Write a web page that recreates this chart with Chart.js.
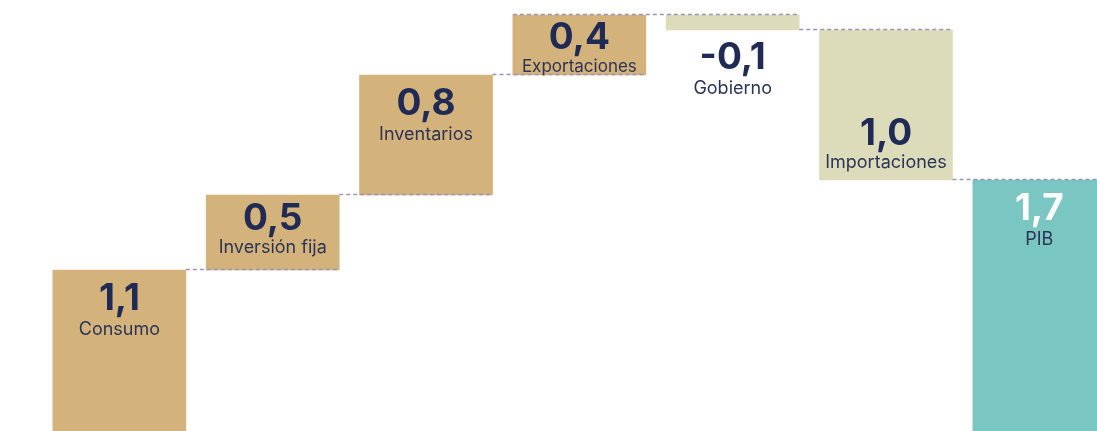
<!DOCTYPE html>
<html>
<head>
<meta charset="utf-8">
<script src="https://cdn.jsdelivr.net/npm/chart.js@4.4.1/dist/chart.umd.min.js"></script>
<style>
  html, body { margin: 0; padding: 0; background: #ffffff; overflow: hidden; }
  #wrap { position: relative; width: 1097px; height: 431px; }
</style>
</head>
<body>
<div id="wrap"><canvas id="c"></canvas></div>
<script>
// ---- data ----
const categories = ["Consumo", "Inversión fija", "Inventarios", "Exportaciones", "Gobierno", "Importaciones", "PIB"];
// contribution of each component (last entry is the total)
const contributions = [1.1, 0.5, 0.8, 0.4, -0.1, -1.0, 1.7];
// text shown on each bar
const valueLabels = ["1,1", "0,5", "0,8", "0,4", "-0,1", "1,0", "1,7"];
const kinds = ["up", "up", "up", "up", "down", "down", "total"];

// ---- build floating ranges ----
const ranges = [];
let running = 0;
contributions.forEach((v, i) => {
  if (kinds[i] === "total") { ranges.push([0, v]); }
  else { ranges.push([running, running + v]); running += v; }
});
const levels = ranges.map(r => r[1]);

const COLORS = { up: "#d4b27b", down: "#dcdcbb", total: "#79c6c2" };
const NAVY = "#1f2a55";
const LABEL = "#2c3456";
const DASH = "#9a94b6";

const labelPlugin = {
  id: "waterfallLabels",
  afterDatasetsDraw(chart) {
    const meta = chart.getDatasetMeta(0);
    const ctx = chart.ctx;
    const bars = meta.data;
    const ys = chart.scales.y;
    ctx.save();
    // connectors
    ctx.strokeStyle = DASH;
    ctx.lineWidth = 1.4;
    ctx.setLineDash([4, 3]);
    for (let i = 0; i < bars.length - 1; i++) {
      const b = bars[i], n = bars[i + 1];
      const yPix = Math.round(ys.getPixelForValue(levels[i])) - 0.5;
      let xStart = b.x + b.width / 2;
      if (kinds[i] === "up" && kinds[i + 1] === "down") xStart = b.x - b.width / 2;
      const xEnd = n.x + n.width / 2;
      ctx.beginPath();
      ctx.moveTo(xStart, yPix);
      ctx.lineTo(xEnd, yPix);
      ctx.stroke();
    }
    ctx.setLineDash([]);
    // labels
    ctx.textAlign = "center";
    ctx.textBaseline = "alphabetic";
    bars.forEach((b, i) => {
      const top = Math.min(b.y, b.base);
      const bottom = Math.max(b.y, b.base);
      const h = bottom - top;
      let numBase, labBase;
      if (kinds[i] === "down") {
        if (h > 70) {
          labBase = bottom - 12;
          numBase = labBase - 23;
        } else {
          numBase = bottom + 12 + 27;
          labBase = numBase + 25;
        }
      } else {
        const pad = Math.min(13, 0.11 * h);
        numBase = top + pad + 27;
        labBase = numBase + (h > 100 ? 25 : 23);
      }
      ctx.font = "bold 37px Inter, 'Open Sans', sans-serif";
      ctx.fillStyle = kinds[i] === "total" ? "#ffffff" : NAVY;
      ctx.fillText(valueLabels[i], b.x, numBase);
      ctx.font = (h > 65 || kinds[i] === "down" ? "18px" : "17px") + " Inter, 'Open Sans', sans-serif";
      ctx.fillStyle = LABEL;
      ctx.fillText(categories[i], b.x, labBase);
    });
    ctx.restore();
  }
};

new Chart(document.getElementById("c"), {
  type: "bar",
  data: {
    datasets: [{
      data: ranges.map((r, i) => ({ x: i, y: r })),
      backgroundColor: kinds.map(k => COLORS[k]),
      borderWidth: 0,
      barThickness: 133
    }]
  },
  options: {
    responsive: true,
    maintainAspectRatio: false,
    animation: false,
    layout: { padding: 0 },
    plugins: { legend: { display: false }, tooltip: { enabled: false } },
    scales: {
      x: { type: "linear", display: false, offset: false, min: -0.7785, max: 6.376,
           ticks: { stepSize: 1 }, grid: { display: false, offset: false } },
      y: { display: false, min: 0.027, max: 2.9, grid: { display: false } }
    }
  },
  plugins: [labelPlugin]
});
</script>
</body>
</html>
